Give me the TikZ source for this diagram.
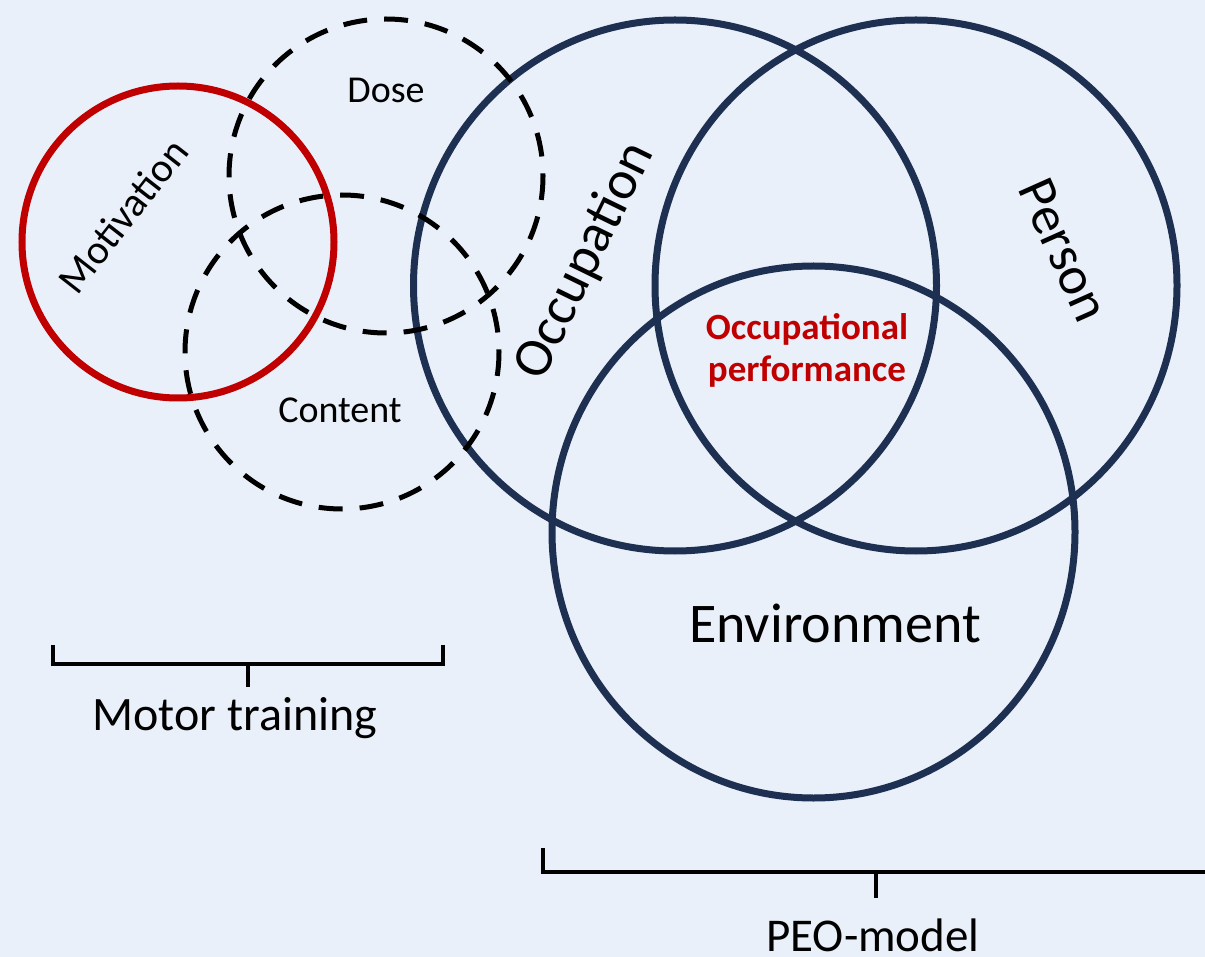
\documentclass[tikz,border=0pt]{standalone}
\usepackage{fontspec}
\setmainfont{Carlito}
\definecolor{bgblue}{RGB}{233,240,249}
\definecolor{navy}{RGB}{30,48,82}
\definecolor{motred}{RGB}{192,0,0}
\begin{document}
\begin{tikzpicture}[x=1pt,y=-1pt,
  peoring/.style={draw=navy, line width=7pt},
  motring/.style={draw=motred, line width=7pt},
  dashring/.style={draw=black, line width=5pt, dash pattern=on 24pt off 17pt},
  bracket/.style={draw=black, line width=3.8pt},
  lbl/.style={inner sep=0pt, text=black},
]
% canvas
\fill[bgblue] (0,0) rectangle (1205,957);
\useasboundingbox (0,0) rectangle (1205,957);

% centres of the rings
\coordinate (occC) at (675,285.5);
\coordinate (perC) at (916,285.5);
\coordinate (envC) at (813.5,532);
\coordinate (motC) at (178,242);
\coordinate (doseC) at (386,176);
\coordinate (contC) at (342,352);

% PEO model rings
\draw[peoring] (occC) ellipse [x radius=261.5, y radius=265.5];
\draw[peoring] (perC) ellipse [x radius=261, y radius=265.5];
\draw[peoring] (envC) ellipse [x radius=261.5, y radius=266];

% motor training rings
\draw[motring] (motC) circle [radius=156];
\draw[dashring] (doseC) circle [radius=157];
\draw[dashring] (contC) circle [radius=157];

% ring labels
\node[lbl, font=\fontsize{38}{40}\selectfont] (dose) at (386,90) {Dose};
\node[lbl, font=\fontsize{38}{40}\selectfont] (content) at (340,410) {Content};
\node[lbl, font=\fontsize{41}{43}\selectfont, rotate=52] (motivation) at (123,216) {Motivation};
\node[lbl, font=\fontsize{55}{58}\selectfont, rotate=64] (occupation) at (585,261) {Occupation};
\node[lbl, font=\fontsize{54}{57}\selectfont, rotate=-66] (person) at (1064,250) {Person};
\node[lbl, font=\fontsize{56}{59}\selectfont] (environment) at (835,623) {Environment};
\node[lbl, text=motred, font=\bfseries\fontsize{37}{42}\selectfont, align=center] (perf) at (807,350)
  {Occupational\\performance};

% motor training bracket
\coordinate (mtL) at (53,645);
\coordinate (mtR) at (443,645);
\coordinate (mtTick) at (248,687);
\draw[bracket] (mtL) |- (248,664) -| (mtR);
\draw[bracket] (248,664) -- (mtTick);
\node[lbl, font=\fontsize{48}{50}\selectfont] (motor) at (235,718) {Motor training};

% PEO model bracket
\coordinate (peoL) at (543,848);
\coordinate (peoR) at (1205,872);
\coordinate (peoTick) at (876,898);
\draw[bracket] (peoL) |- (peoR);
\draw[bracket] (876,872) -- (peoTick);
\node[lbl, font=\fontsize{47}{50}\selectfont] (peo) at (873,935) {PEO-model};
\end{tikzpicture}
\end{document}
